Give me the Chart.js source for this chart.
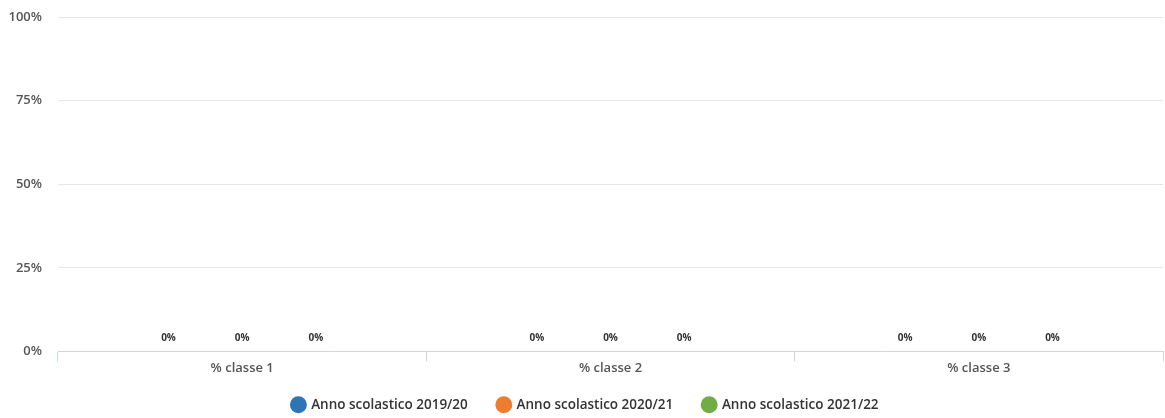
<!DOCTYPE html>
<html>
<head>
<meta charset="utf-8">
<script src="https://cdn.jsdelivr.net/npm/chart.js@4/dist/chart.umd.min.js"></script>
<style>
  html, body { margin: 0; padding: 0; background: #fff; }
  #wrap { width: 1165px; height: 418px; position: relative; }
</style>
</head>
<body>
<div id="wrap"><canvas id="chart-bars"></canvas></div>
<script>
// data
var categories = ["% classe 1", "% classe 2", "% classe 3"];
var seriesNames = ["Anno scolastico 2019/20", "Anno scolastico 2020/21", "Anno scolastico 2021/22"];
var values2019 = [0, 0, 0];
var values2020 = [0, 0, 0];
var values2021 = [0, 0, 0];
var yTicks = [0, 25, 50, 75, 100];
var colors = ["#2e75b6", "#ed7d31", "#70ad47"];

// labels above each bar, like "0%"
var barLabels = {
  id: "barLabels",
  afterDatasetsDraw: function (chart) {
    var c = chart.ctx;
    c.save();
    c.font = "bold 10px 'Open Sans'";
    c.fillStyle = "#333";
    c.textAlign = "center";
    c.textBaseline = "middle";
    chart.data.datasets.forEach(function (ds, i) {
      chart.getDatasetMeta(i).data.forEach(function (bar, j) {
        c.fillText(ds.data[j] + "%", bar.x, bar.y - 13);
      });
    });
    c.restore();
  }
};

// keep the legend short so it sits close under the axis
var legendHeight = {
  id: "legendHeight",
  beforeInit: function (chart) {
    var fit = chart.legend.fit;
    chart.legend.fit = function () {
      fit.call(this);
      this.height = 43;
    };
  },
  afterLayout: function (chart) {
    chart.legend.top -= 7;
    chart.legend.height += 7;
  }
};

var ctx = document.getElementById("chart-bars").getContext("2d");
new Chart(ctx, {
  type: "bar",
  data: {
    labels: categories,
    datasets: [
      { label: seriesNames[0], data: values2019, backgroundColor: colors[0] },
      { label: seriesNames[1], data: values2020, backgroundColor: colors[1] },
      { label: seriesNames[2], data: values2021, backgroundColor: colors[2] },
    ],
  },
  options: {
    responsive: true,
    maintainAspectRatio: false,
    animation: false,
    datasets: { bar: { categoryPercentage: 0.6, barPercentage: 0.8 } },
    layout: { padding: { top: 0, right: 2, left: 8, bottom: 0 } },
    plugins: {
      tooltip: { enabled: false },
      legend: {
        position: "bottom",
        labels: {
          usePointStyle: true,
          pointStyle: "circle",
          boxWidth: 12,
          boxHeight: 12,
          padding: 30,
          color: "#333",
          font: { size: 13.5, family: "Open Sans", weight: "600" },
        },
      },
    },
    scales: {
      y: {
        min: 0,
        max: 100,
        afterBuildTicks: function (axis) {
          axis.ticks = yTicks.map(function (v) { return { value: v }; });
        },
        afterFit: function (axis) {
          axis.width = 50;
          axis.paddingTop = 17;
          axis.paddingBottom = 0;
        },
        border: { display: false },
        grid: { color: "#e6e6e6", drawTicks: false },
        ticks: {
          padding: 16,
          color: "#555",
          font: { size: 13, family: "Open Sans", weight: "600" },
          callback: function (v) { return v + "%"; },
        },
      },
      x: {
        border: { color: "#ccd6eb" },
        grid: { color: "#ccd6eb", drawOnChartArea: false, tickLength: 10, offset: true },
        ticks: {
          padding: -1,
          color: "#555",
          font: { size: 13, family: "Open Sans", weight: "600" },
        },
      },
    },
  },
  plugins: [barLabels, legendHeight],
});
</script>
</body>
</html>
